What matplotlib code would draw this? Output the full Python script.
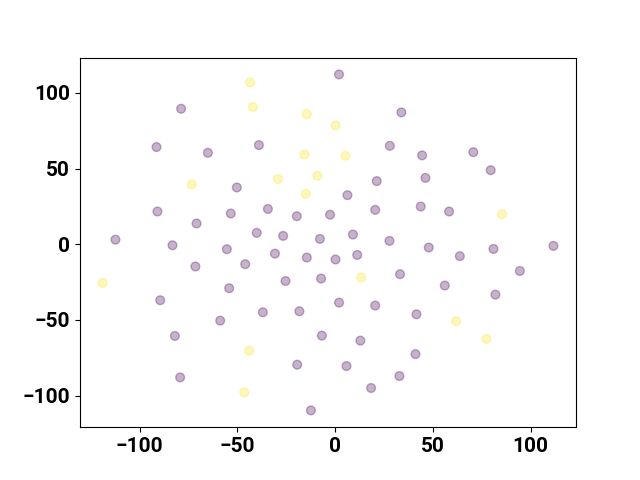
import numpy as np
import matplotlib
matplotlib.use("Agg")
import matplotlib.pyplot as plt

plt.rcParams['font.family'] = ['Roboto', 'DejaVu Sans']
plt.rcParams['font.weight'] = 'bold'

# class 0 (purple) embedding coordinates
x0 = [-78.8, -91.4, -65.1, -39.0, -50.3, -90.9, -53.4, -34.4, -70.9, -19.6,
      -2.6, -112.4, -40.1, -26.6, -7.8, 2.0, 33.9, 28.0, 44.5, 70.7,
      79.6, 21.3, 46.2, 6.3, 20.5, 43.8, 58.3, 9.1, 27.8, 111.7,
      -83.2, -55.4, -30.8, -14.5, -71.5, -46.0, -54.2, -25.4, -7.2, -89.5,
      -37.0, -18.3, -58.8, -82.0, -6.8, -19.4, -79.3, -12.4, 47.9, 81.0,
      0.2, 11.3, 63.8, 33.2, 94.5, 56.1, 82.0, 2.0, 20.5, 41.6,
      12.9, 41.1, 5.8, 32.9, 18.4]
y0 = [89.5, 64.2, 60.4, 65.5, 37.5, 21.6, 20.3, 23.3, 13.7, 18.5,
      19.5, 3.0, 7.5, 5.5, 3.5, 112.2, 87.1, 65.0, 58.7, 60.8,
      48.9, 41.7, 43.8, 32.4, 22.7, 24.9, 21.6, 6.4, 2.2, -1.1,
      -0.7, -3.3, -6.2, -8.8, -14.7, -13.2, -29.1, -24.3, -22.7, -37.0,
      -45.0, -44.3, -50.5, -60.6, -60.4, -79.6, -88.0, -109.8, -2.2, -3.1,
      -10.1, -7.1, -7.9, -19.8, -17.7, -27.3, -33.3, -38.6, -40.5, -46.3,
      -63.7, -72.6, -80.5, -87.1, -95.0]

# class 1 (yellow) embedding coordinates
x1 = [-43.5, -42.1, -14.5, 0.2, -15.7, 5.3, -73.3, -29.2, -9.1, -15.0,
      85.4, 13.3, -119.0, 61.9, 77.4, -44.0, -46.5]
y1 = [106.9, 90.6, 86.0, 78.5, 59.3, 58.4, 39.5, 43.0, 45.2, 33.3,
      19.8, -22.0, -25.6, -50.9, -62.6, -70.3, -97.9]

xs = np.array(x0 + x1)
ys = np.array(y0 + y1)
labels = np.array([0] * len(x0) + [1] * len(x1))

fig, ax = plt.subplots(figsize=(6.4, 4.8), dpi=100)
ax.scatter(xs, ys, c=labels, cmap='viridis', alpha=0.3, s=40)

ax.tick_params(axis='both', which='major', labelsize=15)
for lbl in ax.get_xticklabels() + ax.get_yticklabels():
    lbl.set_fontweight('bold')

plt.savefig('out.png')
